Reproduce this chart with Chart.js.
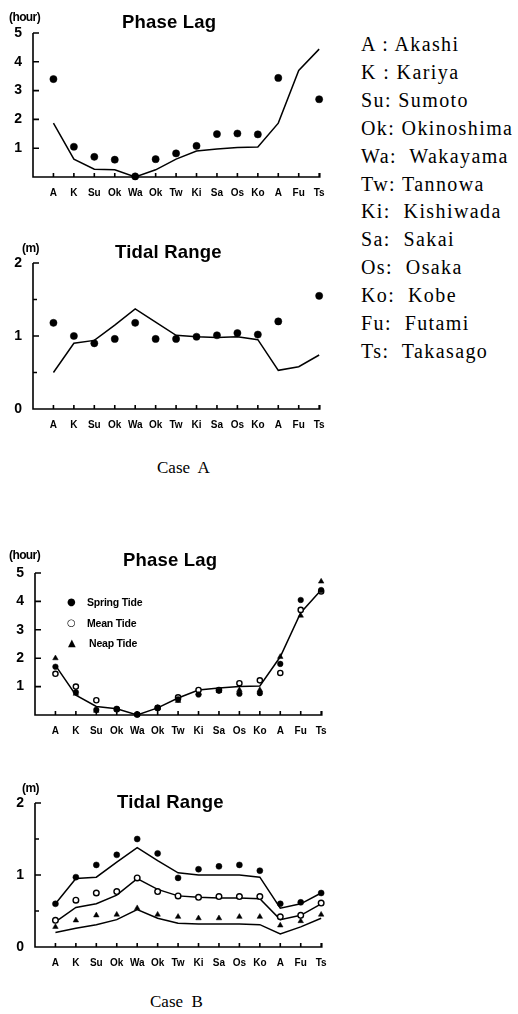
<!DOCTYPE html>
<html>
<head>
<meta charset="utf-8">
<script src="https://cdn.jsdelivr.net/npm/chart.js@4.4.1/dist/chart.umd.min.js"></script>
<style>
  body { margin: 0; background: #fff; }
  #page { position: relative; width: 518px; height: 1014px; overflow: hidden; background: #fff; }
  canvas { position: absolute; left: 0; }
  .t { position: absolute; white-space: pre; color: #000; }
  .title { font: bold 18.5px "Liberation Sans", Arial, sans-serif; line-height: 19px; letter-spacing: 0.2px; }
  .unit { font: bold 12px "Liberation Sans", Arial, sans-serif; line-height: 12px; letter-spacing: -0.6px; }
  .case { font: 17px "Liberation Serif", "Times New Roman", serif; line-height: 17px; }
  .key { font: 20px "Liberation Serif", "Times New Roman", serif; line-height: 20px; letter-spacing: 1.4px; }
  .leg { font: bold 10.5px "Liberation Sans", Arial, sans-serif; line-height: 11px; letter-spacing: -0.2px; }
  .mk { font: 10px "DejaVu Sans", sans-serif; line-height: 10px; }
</style>
</head>
<body>
<div id="page">
  <canvas id="c1" width="340" height="220" style="top:0px"></canvas>
  <canvas id="c2" width="340" height="220" style="top:230px"></canvas>
  <canvas id="c3" width="340" height="220" style="top:540px"></canvas>
  <canvas id="c4" width="340" height="220" style="top:770px"></canvas>

  <div class="t unit" style="left:9px;top:11px">(hour)</div>
  <div class="t title" style="left:122px;top:12px">Phase Lag</div>
  <div class="t unit" style="left:22px;top:242px">(m)</div>
  <div class="t title" style="left:115px;top:242px">Tidal Range</div>
  <div class="t case" style="left:157px;top:459px">Case  A</div>

  <div class="t unit" style="left:9px;top:549px">(hour)</div>
  <div class="t title" style="left:123px;top:550px">Phase Lag</div>
  <div class="t mk" style="left:67px;top:597px">●</div>
  <div class="t leg" style="left:87px;top:597px">Spring Tide</div>
  <div class="t mk" style="left:67px;top:618px">○</div>
  <div class="t leg" style="left:87px;top:618px">Mean Tide</div>
  <div class="t mk" style="left:68px;top:638px">▲</div>
  <div class="t leg" style="left:89px;top:638px">Neap Tide</div>
  <div class="t unit" style="left:22px;top:782px">(m)</div>
  <div class="t title" style="left:117px;top:792px">Tidal Range</div>
  <div class="t case" style="left:150px;top:993px">Case  B</div>

  <div id="keys"></div>
</div>
<script>
// stations along the x axis
const stations = ['A', 'K', 'Su', 'Ok', 'Wa', 'Ok', 'Tw', 'Ki', 'Sa', 'Os', 'Ko', 'A', 'Fu', 'Ts'];
const stationNames = ['A : Akashi', 'K : Kariya', 'Su: Sumoto', 'Ok: Okinoshima', 'Wa:  Wakayama', 'Tw: Tannowa',
  'Ki:  Kishiwada', 'Sa:  Sakai', 'Os:  Osaka', 'Ko:  Kobe', 'Fu:  Futami', 'Ts:  Takasago'];

// Case A
const lagAObs = [3.4, 1.05, 0.7, 0.6, 0.02, 0.62, 0.82, 1.08, 1.49, 1.51, 1.48, 3.44, null, 2.7];
const lagACalc = [1.87, 0.62, 0.27, 0.25, 0.0, 0.25, 0.62, 0.9, 0.97, 1.02, 1.04, 1.87, 3.7, 4.44];
const rangeAObs = [1.18, 1.0, 0.9, 0.96, 1.18, 0.96, 0.96, 0.99, 1.01, 1.04, 1.02, 1.2, null, 1.55];
const rangeACalc = [0.5, 0.9, 0.94, 1.15, 1.37, 1.19, 1.01, 0.99, 0.98, 0.99, 0.95, 0.53, 0.58, 0.74];

// Case B
const lagBSpring = [1.7, 0.8, 0.18, 0.22, 0.02, 0.25, 0.55, 0.72, 0.85, 0.75, 0.77, 1.8, 4.05, 4.4];
const lagBMean = [1.45, 1.0, 0.52, 0.2, 0.02, 0.25, 0.62, 0.88, 0.88, 1.12, 1.22, 1.48, 3.7, 4.35];
const lagBNeap = [2.0, 0.75, 0.15, 0.2, 0.02, 0.25, 0.5, 0.78, 0.85, 0.88, 0.88, 2.05, 3.5, 4.7];
const lagBCalc = [1.75, 0.7, 0.3, 0.22, 0.0, 0.25, 0.6, 0.88, 0.95, 1.0, 1.02, 2.05, 3.6, 4.4];

const rangeBSpring = [0.6, 0.97, 1.14, 1.28, 1.5, 1.3, 0.96, 1.08, 1.12, 1.14, 1.06, 0.6, 0.62, 0.75];
const rangeBMean = [0.37, 0.65, 0.75, 0.77, 0.96, 0.77, 0.71, 0.69, 0.7, 0.7, 0.7, 0.42, 0.44, 0.61];
const rangeBNeap = [0.28, 0.37, 0.44, 0.45, 0.54, 0.45, 0.42, 0.4, 0.4, 0.42, 0.42, 0.3, 0.36, 0.45];
const rangeBCalcSpring = [0.6, 0.95, 0.97, 1.18, 1.38, 1.2, 1.03, 1.0, 1.0, 1.0, 0.97, 0.54, 0.6, 0.75];
const rangeBCalcMean = [0.35, 0.55, 0.6, 0.72, 0.95, 0.8, 0.71, 0.69, 0.68, 0.68, 0.67, 0.38, 0.44, 0.6];
const rangeBCalcNeap = [0.2, 0.26, 0.31, 0.38, 0.52, 0.4, 0.33, 0.32, 0.32, 0.32, 0.31, 0.18, 0.28, 0.4];

// station key on the right
const keys = document.getElementById('keys');
stationNames.forEach((s, i) => {
  const d = document.createElement('div');
  d.className = 't key';
  d.style.left = '361px';
  d.style.top = (34 + i * 27.9) + 'px';
  d.textContent = s;
  keys.appendChild(d);
});

// axis lines and inward ticks like the original plot
const inwardAxes = {
  id: 'inwardAxes',
  beforeDatasetsDraw(chart) {
    const { ctx, chartArea: a, scales: { x, y } } = chart;
    ctx.save();
    ctx.strokeStyle = '#000';
    ctx.lineWidth = 1.6;
    ctx.beginPath();
    ctx.moveTo(a.left, a.top);
    ctx.lineTo(a.left, a.bottom);
    ctx.lineTo(a.right, a.bottom);
    ctx.lineTo(a.right, a.bottom - 4);
    y.ticks.forEach(t => {
      const py = y.getPixelForValue(t.value);
      const len = Number.isInteger(t.value) ? 6 : 4;
      ctx.moveTo(a.left, py);
      ctx.lineTo(a.left + len, py);
    });
    x.ticks.forEach(t => {
      const px = x.getPixelForValue(t.value);
      ctx.moveTo(px, a.bottom);
      ctx.lineTo(px, a.bottom - 4);
    });
    ctx.stroke();
    ctx.restore();
  }
};

function toXY(arr) {
  return arr.map((v, i) => ({ x: i, y: v }));
}

function lineSet(arr) {
  return { type: 'line', data: toXY(arr), borderColor: '#000', borderWidth: 1.5, pointRadius: 0, tension: 0, clip: false, order: 2 };
}

function dotSet(arr, style, r) {
  const open = style === 'open';
  return {
    type: 'scatter', data: toXY(arr),
    pointStyle: style === 'triangle' ? 'triangle' : 'circle',
    pointRadius: r,
    backgroundColor: open ? '#fff' : '#000',
    borderColor: '#000',
    borderWidth: open ? 1.4 : 0.5,
    clip: false, order: 1
  };
}

const H = 220;

function makeChart(id, datasets, yMax, showZero, left, bottom) {
  const canvas = document.getElementById(id);
  const yTicks = [];
  for (let v = 0; v <= yMax; v += 0.5) yTicks.push(v);
  return new Chart(canvas.getContext('2d'), {
    type: 'scatter',
    data: { datasets },
    plugins: [inwardAxes],
    options: {
      responsive: false,
      animation: false,
      layout: { padding: { left: 0, top: 33, right: 340 - (left + 14.03 * 20.44), bottom: 0 } },
      plugins: { legend: { display: false }, tooltip: { enabled: false } },
      scales: {
        x: {
          type: 'linear', min: -1, max: 13.03,
          grid: { display: false }, border: { display: false },
          afterBuildTicks: s => { s.ticks = stations.map((c, i) => ({ value: i })); },
          afterFit: s => { s.height = H - bottom; },
          ticks: {
            autoSkip: false, maxRotation: 0, padding: 2, color: '#000',
            font: { family: 'Liberation Sans', weight: 'bold', size: 10 },
            callback: v => stations[v]
          }
        },
        y: {
          min: 0, max: yMax,
          grid: { display: false }, border: { display: false },
          afterBuildTicks: s => { s.ticks = yTicks.map(v => ({ value: v })); },
          afterFit: s => { s.width = left; },
          ticks: {
            padding: 3, color: '#000',
            font: { family: 'Liberation Sans', weight: 'bold', size: 14 },
            callback: v => (Number.isInteger(v) && (v > 0 || showZero)) ? String(v) : ''
          }
        }
      }
    }
  });
}

makeChart('c1', [dotSet(lagAObs, 'fill', 3.6), lineSet(lagACalc)], 5, false, 33, 177);
makeChart('c2', [dotSet(rangeAObs, 'fill', 3.6), lineSet(rangeACalc)], 2, true, 33, 179);
makeChart('c3', [
  dotSet(lagBSpring, 'fill', 2.8), dotSet(lagBMean, 'open', 2.6), dotSet(lagBNeap, 'triangle', 3.2),
  lineSet(lagBCalc)
], 5, false, 35, 175);
makeChart('c4', [
  dotSet(rangeBSpring, 'fill', 3), dotSet(rangeBMean, 'open', 2.8), dotSet(rangeBNeap, 'triangle', 3.2),
  lineSet(rangeBCalcSpring), lineSet(rangeBCalcMean), lineSet(rangeBCalcNeap)
], 2, true, 35, 177);
</script>
</body>
</html>
